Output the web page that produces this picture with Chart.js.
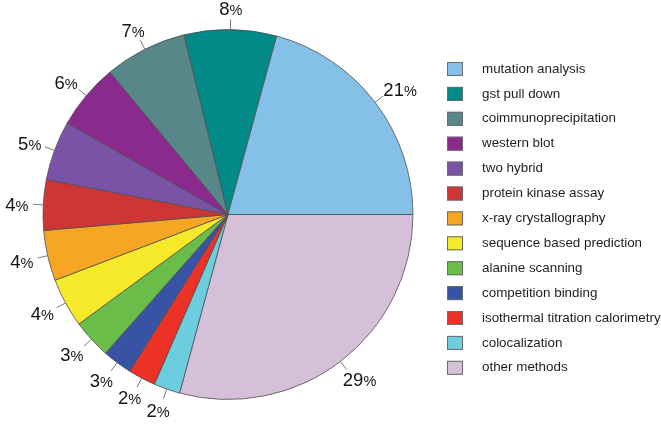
<!DOCTYPE html>
<html lang="en">
<head>
    <meta charset="UTF-8">
    <title>Interaction detection methods</title>
    <script src="https://cdn.jsdelivr.net/npm/chart.js"></script>
    <style>
        body {
            margin: 0;
            padding: 0;
            background: #fff;
        }

        .chart-box {
            position: relative;
            width: 661px;
            height: 428px;
        }
    </style>
</head>
<body>
    <div class="chart-box">
        <canvas id="pieChart"></canvas>
    </div>

    <script>
        // Methods, in legend order (counter-clockwise from 3 o'clock in the pie)
        const methods = [
            'mutation analysis', 'gst pull down', 'coimmunoprecipitation', 'western blot',
            'two hybrid', 'protein kinase assay', 'x-ray crystallography', 'sequence based prediction',
            'alanine scanning', 'competition binding', 'isothermal titration calorimetry',
            'colocalization', 'other methods'
        ];
        const shares = [20.75, 8.05, 7.2, 5.75, 5.2, 4.4, 4.4, 4.3, 3.4, 2.6, 2.4, 2.3, 29.2];
        const colors = [
            '#85c0e9', '#028a88', '#578789', '#8a2a8c', '#7a53a6', '#cf3535', '#f6a623',
            '#f6e92a', '#6bbd4a', '#3953a4', '#ec3127', '#6ccddf', '#d6bfd9'
        ];

        const FONT = "'Liberation Sans', Arial, sans-serif";
        const total = shares.reduce((a, b) => a + b, 0);

        // Chart.js draws clockwise, the reference goes counter-clockwise, so feed it reversed
        const pieLabels = methods.slice().reverse();
        const pieData = shares.slice().reverse();
        const pieColors = colors.slice().reverse();

        // Percent labels with small leader ticks outside the pie
        const percentLabels = {
            id: 'percentLabels',
            afterDatasetsDraw(chart) {
                const ctx = chart.ctx;
                const arcs = chart.getDatasetMeta(0).data;
                ctx.save();
                arcs.forEach((arc, i) => {
                    const mid = (arc.startAngle + arc.endAngle) / 2;
                    const cos = Math.cos(mid);
                    const sin = Math.sin(mid);
                    const r = arc.outerRadius;

                    ctx.strokeStyle = '#7a7a7a';
                    ctx.lineWidth = 1;
                    ctx.beginPath();
                    ctx.moveTo(arc.x + r * cos, arc.y + r * sin);
                    ctx.lineTo(arc.x + r * 1.055 * cos, arc.y + r * 1.055 * sin);
                    ctx.stroke();

                    const num = String(Math.round(pieData[i] / total * 100));
                    ctx.font = '18.5px ' + FONT;
                    const wNum = ctx.measureText(num).width;
                    ctx.font = '14.5px ' + FONT;
                    const wPct = ctx.measureText('%').width;
                    const w = wNum + wPct;
                    const h = 14;
                    const R0 = r * 1.08;
                    const cx = arc.x + R0 * cos + cos * w / 2;
                    const cy = arc.y + R0 * sin + sin * h / 2;
                    const left = cx - w / 2;
                    const base = cy + 7;

                    ctx.fillStyle = '#141414';
                    ctx.textBaseline = 'alphabetic';
                    ctx.textAlign = 'left';
                    ctx.font = '18.5px ' + FONT;
                    ctx.fillText(num, left, base);
                    ctx.font = '14.5px ' + FONT;
                    ctx.fillText('%', left + wNum, base);
                });
                ctx.restore();
            }
        };

        // Legend on the right, drawn by hand for exact placement
        const sideLegend = {
            id: 'sideLegend',
            afterDraw(chart) {
                const ctx = chart.ctx;
                ctx.save();
                methods.forEach((name, i) => {
                    const y = 69 + i * 24.9;
                    ctx.fillStyle = colors[i];
                    ctx.fillRect(447, y - 7, 16, 14);
                    ctx.strokeStyle = '#6a6a6a';
                    ctx.lineWidth = 1;
                    ctx.strokeRect(447.5, y - 6.5, 15, 13);

                    ctx.fillStyle = '#1e1e1e';
                    ctx.font = '13.4px ' + FONT;
                    ctx.textBaseline = 'middle';
                    ctx.textAlign = 'left';
                    ctx.fillText(name, 482, y);
                });
                ctx.restore();
            }
        };

        new Chart(document.getElementById('pieChart'), {
            type: 'pie',
            data: {
                labels: pieLabels,
                datasets: [{
                    data: pieData,
                    backgroundColor: pieColors,
                    borderColor: '#4f4f4f',
                    borderWidth: 0.8
                }]
            },
            options: {
                responsive: true,
                maintainAspectRatio: false,
                animation: false,
                rotation: 90,
                radius: 185,
                layout: {
                    padding: { left: 43, right: 248, top: 29, bottom: 28 }
                },
                plugins: {
                    legend: { display: false },
                    tooltip: { enabled: false }
                }
            },
            plugins: [percentLabels, sideLegend]
        });
    </script>
</body>
</html>
